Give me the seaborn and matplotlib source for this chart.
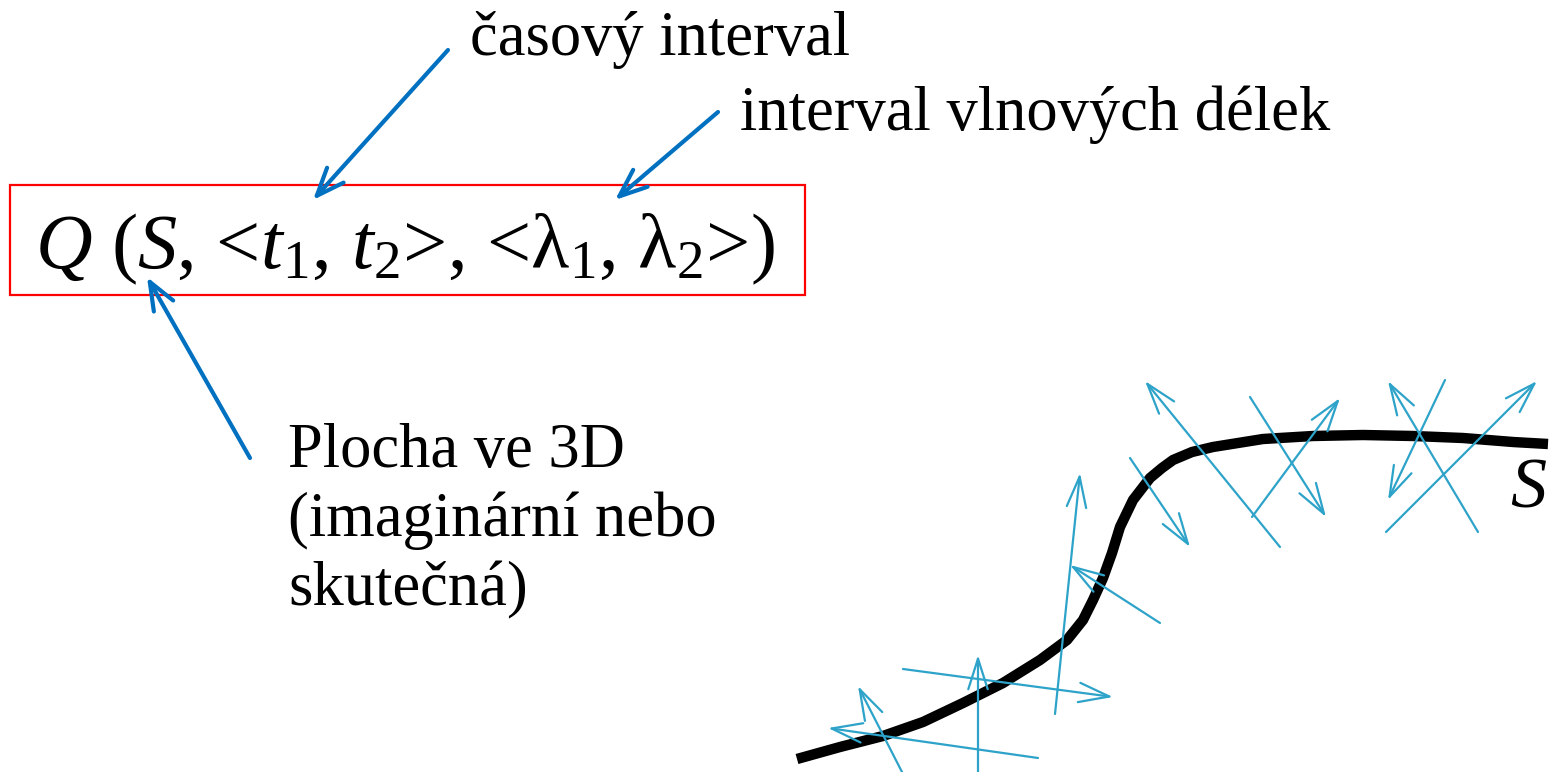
import matplotlib.pyplot as plt
import seaborn as sns
import pandas as pd

# surface S (pixel coordinates of the reference, y downward)
curve_x = [797, 840, 883, 923, 963, 1003, 1040, 1067, 1083, 1093, 1103, 1112, 1120, 1133, 1150,
           1162, 1173, 1192, 1213, 1263, 1313, 1363, 1413, 1463, 1513, 1548]
curve_y = [759, 747, 736, 722, 703, 683, 660, 640, 620, 600, 578, 553, 527, 500, 478,
           468, 460, 452, 447, 439, 436, 435, 436, 438, 442, 444]

# rays leaving / hitting the surface: (x0, y0) -> (x1, y1), head at the end
ray_start = [(902, 772), (1038, 758), (978, 772), (903, 669), (1055, 714), (1160, 623), (1130, 458),
             (1280, 547), (1250, 397), (1252, 517), (1445, 380), (1478, 532), (1386, 532)]
ray_end = [(858, 686), (828, 728), (978, 655), (1113, 697), (1080, 473), (1070, 565), (1190, 547),
           (1145, 381), (1326, 517), (1340, 398), (1388, 500), (1388, 381), (1537, 381)]

# labels with pointer arrows
labels = ["časový interval", "interval vlnových délek", "Plocha ve 3D\n(imaginární nebo\nskutečná)"]
label_pos = [(470, 55), (740, 130), (288, 605)]
pointer_start = [(448, 50), (718, 112), (250, 458)]
pointer_end = [(313, 200), (615, 200), (147, 277)]

# plain text with italic math symbols only where the formula has them
formula = r"$Q$ ($S$, <$t$$_\mathrm{1}$, $t$$_\mathrm{2}$>, <λ$_\mathrm{1}$, λ$_\mathrm{2}$>)"

sns.set_theme(style="white")
plt.rcParams['mathtext.fontset'] = 'custom'
plt.rcParams['mathtext.rm'] = 'Liberation Serif'
plt.rcParams['mathtext.it'] = 'Liberation Serif:italic'
plt.rcParams['font.family'] = ['Liberation Serif', 'DejaVu Serif']

fig = plt.figure(figsize=(15.59, 7.72), dpi=100)
ax = fig.add_axes([0, 0, 1, 1])

df = pd.DataFrame({'x': curve_x, 'y': curve_y})
sns.lineplot(data=df, x='x', y='y', sort=False, color='black', linewidth=7.5,
             solid_capstyle='butt', solid_joinstyle='round', ax=ax)
ax.set_xlim(0, 1559)
ax.set_ylim(772, 0)
ax.axis('off')

for s, e in zip(ray_start, ray_end):
    ax.annotate("", xy=e, xytext=s,
                arrowprops=dict(arrowstyle='->,head_length=1.1,head_width=0.35',
                                color='#2ea3c9', lw=1.6, mutation_scale=20,
                                shrinkA=0, shrinkB=0))

ax.text(1510, 507, "S", fontsize=52, fontstyle='italic', color='black')

# formula box
ax.add_patch(plt.Rectangle((10, 185), 795, 110, fill=False, edgecolor='#ff0000', lw=1.6))
ax.text(35, 268, formula, fontsize=56.5, color='black', va='baseline')

for txt, (x, y) in zip(labels, label_pos):
    ax.text(x, y, txt, fontsize=45, color='black', va='baseline', linespacing=1.24)

for s, e in zip(pointer_start, pointer_end):
    ax.annotate("", xy=e, xytext=s,
                arrowprops=dict(arrowstyle='->,head_length=1.0,head_width=0.4',
                                color='#0070c0', lw=3, mutation_scale=20,
                                shrinkA=0, shrinkB=0))

fig.savefig('out.png', dpi=100)
